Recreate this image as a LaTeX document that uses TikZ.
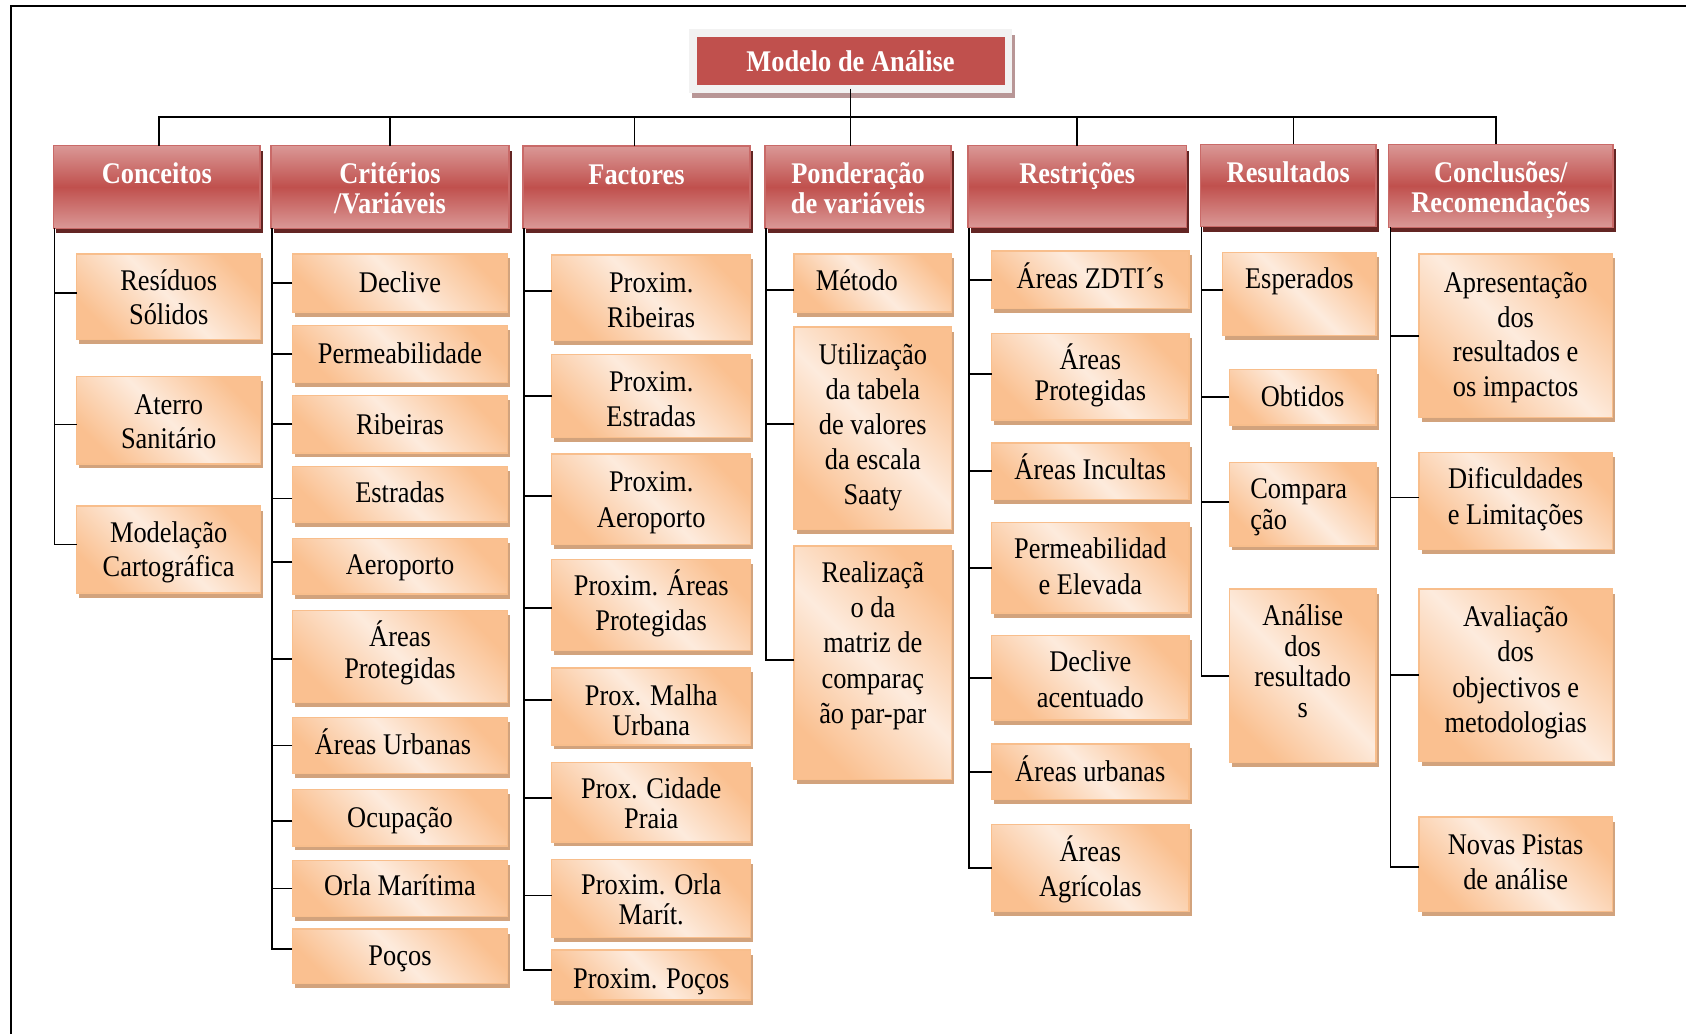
\documentclass[tikz,border=0pt]{standalone}
\usepackage{fontspec}
\setmainfont{Liberation Serif}[FakeStretch=0.88]
\usetikzlibrary{calc}

\definecolor{hdrmid}{HTML}{C0504D}
\definecolor{hdrlight}{HTML}{DA9896}
\definecolor{hdrshadow}{HTML}{632523}
\definecolor{boxorange}{HTML}{FAC090}
\definecolor{boxlight}{HTML}{FDEBDD}
\definecolor{boxline}{HTML}{F8BE8C}
\definecolor{boxshadow}{HTML}{D2A37D}
\definecolor{titlebg}{HTML}{F2F2F2}
\definecolor{titleshadow}{HTML}{B89696}

\tikzset{
  bodybox/.style={anchor=north west, inner sep=0pt, outer sep=0pt,
    draw=boxline, line width=1.5pt,
    top color=boxorange, bottom color=boxorange, middle color=boxlight,
    shading angle=-45,
    preaction={fill=boxshadow, transform canvas={xshift=2.5pt, yshift=-4.5pt}},
    font=\fontsize{30}{34.5}\selectfont},
  hdrbox/.style={anchor=north west, inner sep=0pt, outer sep=0pt,
    draw=hdrmid!85!white, line width=1.5pt,
    top color=hdrlight, bottom color=hdrlight, middle color=hdrmid,
    preaction={fill=hdrshadow, transform canvas={xshift=2.5pt, yshift=-5pt}},
    text=white, font=\bfseries\fontsize{30}{30}\selectfont},
  titlebox/.style={anchor=north west, inner sep=0pt, outer sep=0pt,
    fill=titlebg,
    preaction={fill=titleshadow, transform canvas={xshift=3pt, yshift=-5.5pt}},
    path picture={\fill[hdrmid]
      ([xshift=7.8pt,yshift=7.7pt]path picture bounding box.south west) rectangle
      ([xshift=-7.5pt,yshift=-7.4pt]path picture bounding box.north east);},
    text=white, font=\bfseries\fontsize{30}{30}\selectfont},
  link/.style={line width=1.7pt, draw=black},
  frameline/.style={line width=1.8pt, draw=black},
}

% body box: [alignment]{name}{x1}{y1}{x2}{y2}{first baseline}{line pitch}{text}
\newcommand\ob[9][\centering]{%
  \pgfmathsetmacro\obW{#5-#3}%
  \pgfmathsetmacro\obH{#6-#4}%
  \node[bodybox] (#2) at (#3,#4) {\parbox[c][\obH pt][t]{\obW pt}{#1\lineskiplimit=-100pt\baselineskip=#8pt\relax\rule{0pt}{#7pt}#9\par}};}

% header box: {name}{x1}{y1}{x2}{y2}{text}
\newcommand\hb[6]{%
  \pgfmathsetmacro\obW{#4-#2}%
  \pgfmathsetmacro\obH{#5-#3}%
  \node[hdrbox] (#1) at (#2,#3) {\parbox[c][\obH pt][t]{\obW pt}{\centering\lineskiplimit=-100pt\baselineskip=30pt\relax\rule{0pt}{38pt}#6\par}};}

% branch from a column spine to a box
\newcommand\br[3][0]{\draw[link] ([yshift=#1pt]#2.west) -| (#3);}

\begin{document}
\begin{tikzpicture}[x=1pt, y=-1pt]
\useasboundingbox (0,0) rectangle (1686,1034);

% outer frame (top and left edges)
\draw[frameline] (10.7,1034) -- (10.7,6) -- (1686,6);

% title
\node[titlebox] (title) at (689,29.3)
  {\parbox[c][63.4pt][t]{323pt}{\centering\rule{0pt}{42.4pt}Modelo de Análise\par}};

% column headers
\hb{h1}{53.6}{145.5}{260}{228.3}{Conceitos}
\hb{h2}{271}{145.5}{509}{228.3}{Critérios\\/Variáveis}
\hb{h3}{523}{146}{750}{228.3}{Factores}
\hb{h4}{765}{145.5}{951}{228.3}{Ponderação\\de variáveis}
\hb{h5}{968}{145.5}{1186.6}{227.5}{Restrições}
\hb{h6}{1200.6}{144.3}{1376}{226.7}{Resultados}
\hb{h7}{1388.6}{144.3}{1613}{227.3}{Conclusões/\\Recomendações}

% Conceitos
\ob{c1a}{76.7}{253.8}{260.7}{339.4}{37}{34}{Resíduos\\Sólidos}
\ob{c1b}{76.7}{376.7}{260.7}{463.8}{37.4}{34}{Aterro\\Sanitário}
\ob{c1c}{76.7}{506}{260.7}{593}{36.4}{34.4}{Modelação\\Cartográfica}

% Critérios / Variáveis
\ob{c2a}{292.3}{253.8}{507.7}{312}{38.4}{34.5}{Declive}
\ob{c2b}{292.3}{325.5}{507.7}{382.7}{37.8}{34.5}{Permeabilidade}
\ob{c2c}{292.3}{395.6}{507.7}{452.8}{38.9}{34.5}{Ribeiras}
\ob{c2d}{292.3}{466.3}{507.7}{522}{36.3}{34.5}{Estradas}
\ob{c2e}{292.3}{538.4}{507.7}{594.1}{35.9}{34.5}{Aeroporto}
\ob{c2f}{292.3}{610.5}{507.7}{702.6}{36.4}{32}{Áreas\\Protegidas}
\ob{c2g}{292.3}{717.5}{507.7}{773.7}{37.4}{34.5}{Áreas Urbanas\hspace*{14pt}}
\ob{c2h}{292.3}{789.6}{507.7}{845.9}{37.4}{34.5}{Ocupação}
\ob{c2i}{292.3}{860.3}{507.7}{916.5}{35.4}{34.5}{Orla Marítima}
\ob{c2j}{292.3}{929}{507.7}{983.7}{36.3}{34.5}{Poços}

% Factores
\ob{c3a}{551.7}{254.8}{750.7}{340.4}{37.4}{34.8}{Proxim.\\Ribeiras}
\ob{c3b}{551.7}{354.3}{750.7}{437.4}{37.4}{34.8}{Proxim.\\Estradas}
\ob{c3c}{551.7}{453.8}{750.7}{544.4}{37.4}{36}{Proxim.\\Aeroporto}
\ob{c3d}{551.7}{559.3}{750.7}{650.3}{36.4}{35}{Proxim. Áreas\\Protegidas}
\ob{c3e}{551.7}{667.8}{750.7}{744.9}{37.3}{30}{Prox. Malha\\Urbana}
\ob{c3f}{551.7}{762.3}{750.7}{841.9}{35.9}{30}{Prox. Cidade\\Praia}
\ob{c3g}{551.7}{859.3}{750.7}{937.4}{34.9}{30}{Proxim. Orla\\Marít.}
\ob{c3h}{551.7}{950}{750.7}{1000}{38}{34.5}{Proxim. Poços}

% Ponderação de variáveis
\ob{c4a}{794}{253.8}{951.7}{312}{36.9}{34.5}{Método\hspace*{32pt}}
\ob{c4b}{794}{327}{951.7}{529.5}{37.3}{35}{Utilização\\da tabela\\de valores\\da escala\\Saaty}
\ob{c4c}{794}{545.9}{951.7}{779.7}{36.3}{35.3}{Realizaçã\\o da\\matriz de\\comparaç\\ão par-par}

% Restrições
\ob{c5a}{991.7}{250.8}{1189}{308.6}{37.9}{34.5}{Áreas ZDTI´s}
\ob{c5b}{991.7}{333.4}{1189}{420}{35.9}{30.8}{Áreas\\Protegidas}
\ob{c5c}{991.7}{442.9}{1189}{499.6}{36.9}{34.5}{Áreas Incultas}
\ob{c5d}{991.7}{522.5}{1189}{613}{35.9}{35.8}{Permeabilidad\\e Elevada}
\ob{c5e}{991.7}{635.4}{1189}{720}{36.4}{35.8}{Declive\\acentuado}
\ob{c5f}{991.7}{743.9}{1189}{799.6}{37.3}{34.5}{Áreas urbanas}
\ob{c5g}{991.7}{824.5}{1189}{911.5}{37.3}{34.9}{Áreas\\Agrícolas}

% Resultados
\ob{c6a}{1222.7}{252.3}{1376}{335.4}{36.4}{34.5}{Esperados}
\ob{c6b}{1229.3}{369.3}{1376}{425}{37.3}{34.5}{Obtidos}
\ob[\raggedright]{c6c}{1229.3}{462.3}{1376}{545.9}{36.4}{30.8}{\hspace*{21pt}Compara\\\hspace*{21pt}ção}
\ob{c6d}{1229.3}{589.2}{1376}{762.3}{36.3}{30.7}{Análise\\dos\\resultado\\s}

% Conclusões / Recomendações
\ob{c7a}{1419}{253.8}{1612.3}{417.5}{38.4}{34.8}{Apresentação\\dos\\resultados e\\os impactos}
\ob{c7b}{1419}{452.3}{1612.3}{549.4}{36.4}{35.8}{Dificuldades\\e Limitações}
\ob{c7c}{1419}{589.2}{1612.3}{761.3}{37.3}{35.4}{Avaliação\\dos\\objectivos e\\metodologias}
\ob{c7d}{1419}{817}{1612.3}{911.5}{37.4}{34.8}{Novas Pistas\\de análise}

% top-level tree
\coordinate (bus) at (0,116.7);
\draw[link] ([yshift=4pt]title.south) -- (title.south |- h4.north);
\draw[link] ([xshift=2pt]h1.north) -- ([xshift=2pt]h1.north |- bus)
  -- ([xshift=-4.5pt]h7.north |- bus) -- ([xshift=-4.5pt]h7.north);
\draw[link] (h2.north) -- (h2.north |- bus);
\draw[link] ([xshift=-2pt]h3.north) -- ([xshift=-2pt]h3.north |- bus);
\draw[link] (h5.north) -- (h5.north |- bus);
\draw[link] ([xshift=5.3pt]h6.north) -- ([xshift=5.3pt]h6.north |- bus);

% column spines
\coordinate (k1) at ([xshift=1pt]h1.south west);
\coordinate (k2) at ([xshift=1pt]h2.south west);
\coordinate (k3) at ([xshift=1pt]h3.south west);
\coordinate (k4) at ([xshift=1pt]h4.south west);
\coordinate (k5) at ([xshift=1pt]h5.south west);
\coordinate (k6) at ([xshift=1pt]h6.south west);
\coordinate (k7) at ([xshift=2pt]h7.south west);

\br[3.5]{c1a}{k1} \br[-4.25]{c1b}{k1} \br[5]{c1c}{k1}

\br{c2a}{k2} \br{c2b}{k2} \br{c2c}{k2} \br[-4.4]{c2d}{k2} \br[4]{c2e}{k2}
\br[-2.7]{c2f}{k2} \br{c2g}{k2} \br[-3.2]{c2h}{k2} \br{c2i}{k2} \br[7.6]{c2j}{k2}

\br[6.5]{c3a}{k3} \br{c3b}{k3} \br[3]{c3c}{k3} \br[-3.3]{c3d}{k3}
\br[6.3]{c3e}{k3} \br[4]{c3f}{k3} \br[2.8]{c3g}{k3} \br[4.8]{c3h}{k3}

\br[-6.8]{c4a}{k4} \br[4.3]{c4b}{k4} \br[2.5]{c4c}{k4}

\br{c5a}{k5} \br[2.5]{c5b}{k5} \br{c5c}{k5} \br{c5d}{k5} \br{c5e}{k5} \br{c5f}{k5} \br{c5g}{k5}

\br[4.2]{c6a}{k6} \br{c6b}{k6} \br[2.1]{c6c}{k6} \br{c6d}{k6}

\br{c7a}{k7} \br[3.3]{c7b}{k7} \br{c7c}{k7} \br[-2.5]{c7d}{k7}
\end{tikzpicture}
\end{document}
